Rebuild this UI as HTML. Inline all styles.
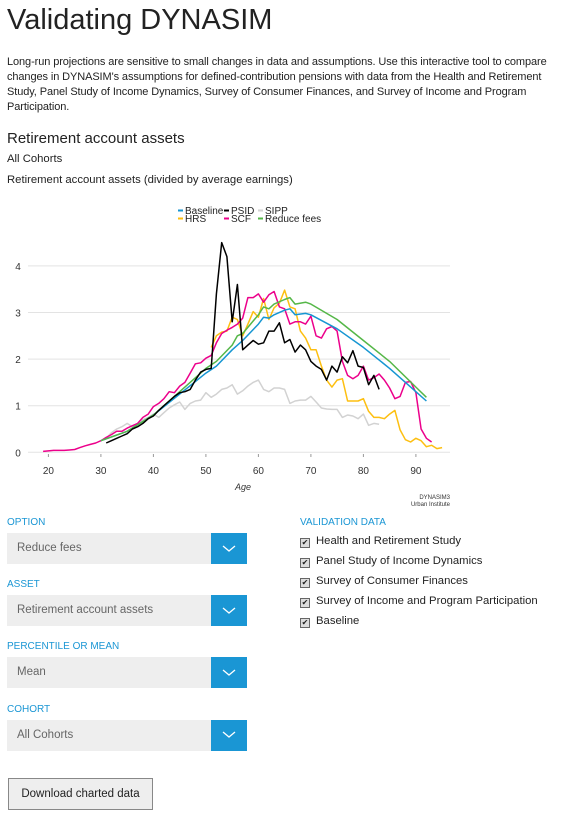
<!DOCTYPE html>
<html><head><meta charset="utf-8">
<style>
body{margin:0;width:563px;height:822px;background:#fff;font-family:"Liberation Sans",sans-serif;color:#222;position:relative;overflow:hidden}
.a{position:absolute}
h1{position:absolute;left:7px;top:4px;margin:0;font-weight:normal;font-size:29px;color:#222}
.intro{left:7px;top:55px;width:550px;font-size:11px;line-height:15px;color:#222;letter-spacing:-0.1px}
.lab{font-size:10px;color:#1a96d4;left:7px}
.sel{left:7px;width:240px;height:31px;background:#eee}
.sel span{position:absolute;left:10px;top:9px;font-size:11.5px;color:#666}
.sel b{position:absolute;right:0;top:0;width:36px;height:31px;background:#1a96d4}
.chk{left:300px;font-size:11.3px;color:#222}
.chk i{display:inline-block;width:8px;height:8px;border:1px solid #666;background:#ddd;margin-right:6px;vertical-align:-1px;font-size:8px;line-height:8px;text-align:center;font-style:normal}
</style></head><body>
<h1>Validating DYNASIM</h1>
<div class="a intro">Long-run projections are sensitive to small changes in data and assumptions. Use this interactive tool to compare changes in DYNASIM's assumptions for defined-contribution pensions with data from the Health and Retirement Study, Panel Study of Income Dynamics, Survey of Consumer Finances, and Survey of Income and Program Participation.</div>
<div class="a" style="left:7px;top:130px;font-size:15px">Retirement account assets</div>
<div class="a" style="left:7px;top:153px;font-size:11.3px">All Cohorts</div>
<div class="a" style="left:7px;top:174px;font-size:11.3px">Retirement account assets (divided by average earnings)</div>
<svg class="a" style="left:0;top:0" width="563" height="520" id="chart"></svg>

<div class="a lab" style="top:517px">OPTION</div>
<div class="a sel" style="top:533px"><span>Reduce fees</span><b></b></div>
<div class="a lab" style="top:579px">ASSET</div>
<div class="a sel" style="top:595px"><span>Retirement account assets</span><b></b></div>
<div class="a lab" style="top:641px">PERCENTILE OR MEAN</div>
<div class="a sel" style="top:657px"><span>Mean</span><b></b></div>
<div class="a lab" style="top:704px">COHORT</div>
<div class="a sel" style="top:720px"><span>All Cohorts</span><b></b></div>
<svg class="a" style="left:0;top:0;pointer-events:none" width="563" height="822">
<g fill="none" stroke="#fff" stroke-width="1.3"><path d="M223 546l6 5 6-5"/><path d="M223 608l6 5 6-5"/><path d="M223 670l6 5 6-5"/><path d="M223 732l6 5 6-5"/></g></svg>

<div class="a lab" style="left:300px;top:517px">VALIDATION DATA</div>
<div class="a chk" style="top:535px"><i>✔</i>Health and Retirement Study</div>
<div class="a chk" style="top:555px"><i>✔</i>Panel Study of Income Dynamics</div>
<div class="a chk" style="top:575px"><i>✔</i>Survey of Consumer Finances</div>
<div class="a chk" style="top:595px"><i>✔</i>Survey of Income and Program Participation</div>
<div class="a chk" style="top:615px"><i>✔</i>Baseline</div>
<div class="a" style="left:8px;top:778px;width:143px;height:30px;border:1px solid #888;background:#eee;font-size:11.5px;text-align:center;line-height:30px">Download charted data</div>

<script>
const baselineAges=[30,35,40,45,50,52,55,57,60,61,62,63,65,66,67,69,70,75,80,85,90,92];
const baselineVals=[0.25,0.45,0.8,1.25,1.7,1.85,2.2,2.4,2.75,2.9,2.88,2.95,3.05,3.08,2.95,2.98,2.95,2.65,2.25,1.8,1.3,1.1];
const reduceAges=[30,35,40,45,50,52,55,56,57,60,61,62,63,65,66,67,69,70,75,80,85,90,92];
const reduceVals=[0.25,0.45,0.8,1.3,1.8,1.95,2.3,2.5,2.55,2.95,3.12,3.08,3.18,3.28,3.32,3.18,3.22,3.18,2.85,2.4,1.95,1.4,1.18];
const psidStart=31;
const psidVals=[0.2,0.25,0.3,0.35,0.4,0.5,0.55,0.62,0.72,0.78,0.9,1.0,1.1,1.2,1.28,1.3,1.35,1.55,1.72,1.78,1.8,3.4,4.5,4.2,2.8,3.6,2.2,2.3,2.4,2.32,2.35,2.6,2.6,2.78,2.35,2.42,2.15,2.3,2.2,1.95,1.85,1.78,1.55,1.85,1.72,2.05,1.92,2.18,1.85,1.82,1.45,1.65,1.35];
const hrsStart=51;
const hrsVals=[2.25,2.5,2.58,2.6,2.9,2.85,2.5,2.75,3.02,2.9,3.3,2.85,3.1,3.2,3.48,3.12,3.08,2.6,2.45,2.2,2.2,1.85,1.55,1.4,1.55,1.58,1.1,1.1,1.1,1.15,0.88,0.75,0.75,0.72,0.82,0.9,0.48,0.27,0.22,0.3,0.25,0.12,0.15,0.08,0.1];
const scfStart=19;
const scfVals=[0.02,0.03,0.04,0.04,0.04,0.05,0.06,0.1,0.14,0.17,0.2,0.25,0.32,0.38,0.45,0.45,0.52,0.57,0.62,0.75,0.82,0.98,1.05,1.15,1.3,1.28,1.42,1.5,1.7,1.9,1.92,2.02,2.08,2.35,2.55,2.62,2.68,2.75,2.88,3.32,3.32,3.4,3.22,3.38,3.45,3.12,3.08,2.75,2.8,2.8,2.75,2.92,2.5,2.45,2.65,2.7,2.6,1.95,1.65,1.58,1.65,1.85,1.55,1.6,1.68,1.55,1.38,1.15,1.2,1.5,1.52,1.28,0.5,0.3,0.22];
const sippStart=30;
const sippVals=[0.25,0.3,0.42,0.5,0.55,0.62,0.55,0.62,0.7,0.75,0.82,0.75,0.85,0.95,1.02,1.08,0.92,1.05,1.1,1.12,1.28,1.18,1.25,1.35,1.38,1.45,1.25,1.32,1.42,1.5,1.55,1.35,1.3,1.38,1.38,1.35,1.05,1.1,1.12,1.12,1.2,1.08,0.95,0.93,0.92,0.92,0.75,0.8,0.78,0.72,0.82,0.58,0.62,0.6];
const xTicks=[20,30,40,50,60,70,80,90];
const yTicks=[0,1,2,3,4];
const legendNames=["Baseline","PSID","SIPP","HRS","SCF","Reduce fees"];
const legendColors=["#1696d2","#000","#d2d2d2","#fdbf11","#ec008b","#55b748"];

const svg=document.getElementById('chart');
const NS='http://www.w3.org/2000/svg';
const X=a=>48.4+(a-20)*5.25;
const Y=v=>452.3-v*46.6;
function mk(t,at){const e=document.createElementNS(NS,t);for(const k in at)e.setAttribute(k,at[k]);svg.appendChild(e);return e;}
yTicks.forEach(t=>{
  const l=mk('line',{x1:28,x2:450,y1:Y(t),y2:Y(t),stroke:'#e3e3e3','stroke-width':1});
  
  
  const tx=mk('text',{x:18,y:Y(t)+4,'font-size':10,fill:'#333','text-anchor':'middle','font-family':'Liberation Sans'});
  tx.textContent=t;
  
  
});
xTicks.forEach(t=>{
  mk('line',{x1:X(t),x2:X(t),y1:454,y2:457,stroke:'#999'});
  const tx=mk('text',{x:X(t),y:474,'font-size':10,fill:'#333','text-anchor':'middle','font-family':'Liberation Sans'});
  tx.textContent=t;
  
  
});
let at=mk('text',{x:243,y:490,'font-size':9,'font-style':'italic',fill:'#333','text-anchor':'middle','font-family':'Liberation Sans'});at.textContent='Age';


[['DYNASIM3',499],['Urban Institute',506]].forEach(([s,y])=>{const t=mk('text',{x:450,y:y,'font-size':6,fill:'#333','text-anchor':'end','font-family':'Liberation Sans'});t.textContent=s;

});
function line(ages,vals,color,name){
  const d=vals.map((v,i)=>(i?'L':'M')+X(ages[i]).toFixed(1)+' '+Y(v).toFixed(1)).join('');
  const p=mk('path',{d:d,fill:'none',stroke:color,'stroke-width':1.5,'stroke-linejoin':'round'});
  
  
}
const seq=(s,n)=>Array.from({length:n},(_,i)=>s+i);
line(seq(sippStart,sippVals.length),sippVals,legendColors[2],'sipp-line');
line(seq(hrsStart,hrsVals.length),hrsVals,legendColors[3],'hrs-line');
line(seq(scfStart,scfVals.length),scfVals,legendColors[4],'scf-line');
line(baselineAges,baselineVals,legendColors[0],'baseline-line');
line(reduceAges,reduceVals,legendColors[5],'reduce-fees-line');
line(seq(psidStart,psidVals.length),psidVals,legendColors[1],'psid-line');
const lx=[178,224,258,178,224,258],ly=[214,214,214,222,222,222];
legendNames.forEach((n,i)=>{
  mk('line',{x1:lx[i],x2:lx[i]+5,y1:ly[i]-3.5,y2:ly[i]-3.5,stroke:legendColors[i],'stroke-width':2});
  const t=mk('text',{x:lx[i]+7,y:ly[i],'font-size':10,fill:'#222','font-family':'Liberation Sans'});t.textContent=n;
  
  
});
</script>
</body></html>
